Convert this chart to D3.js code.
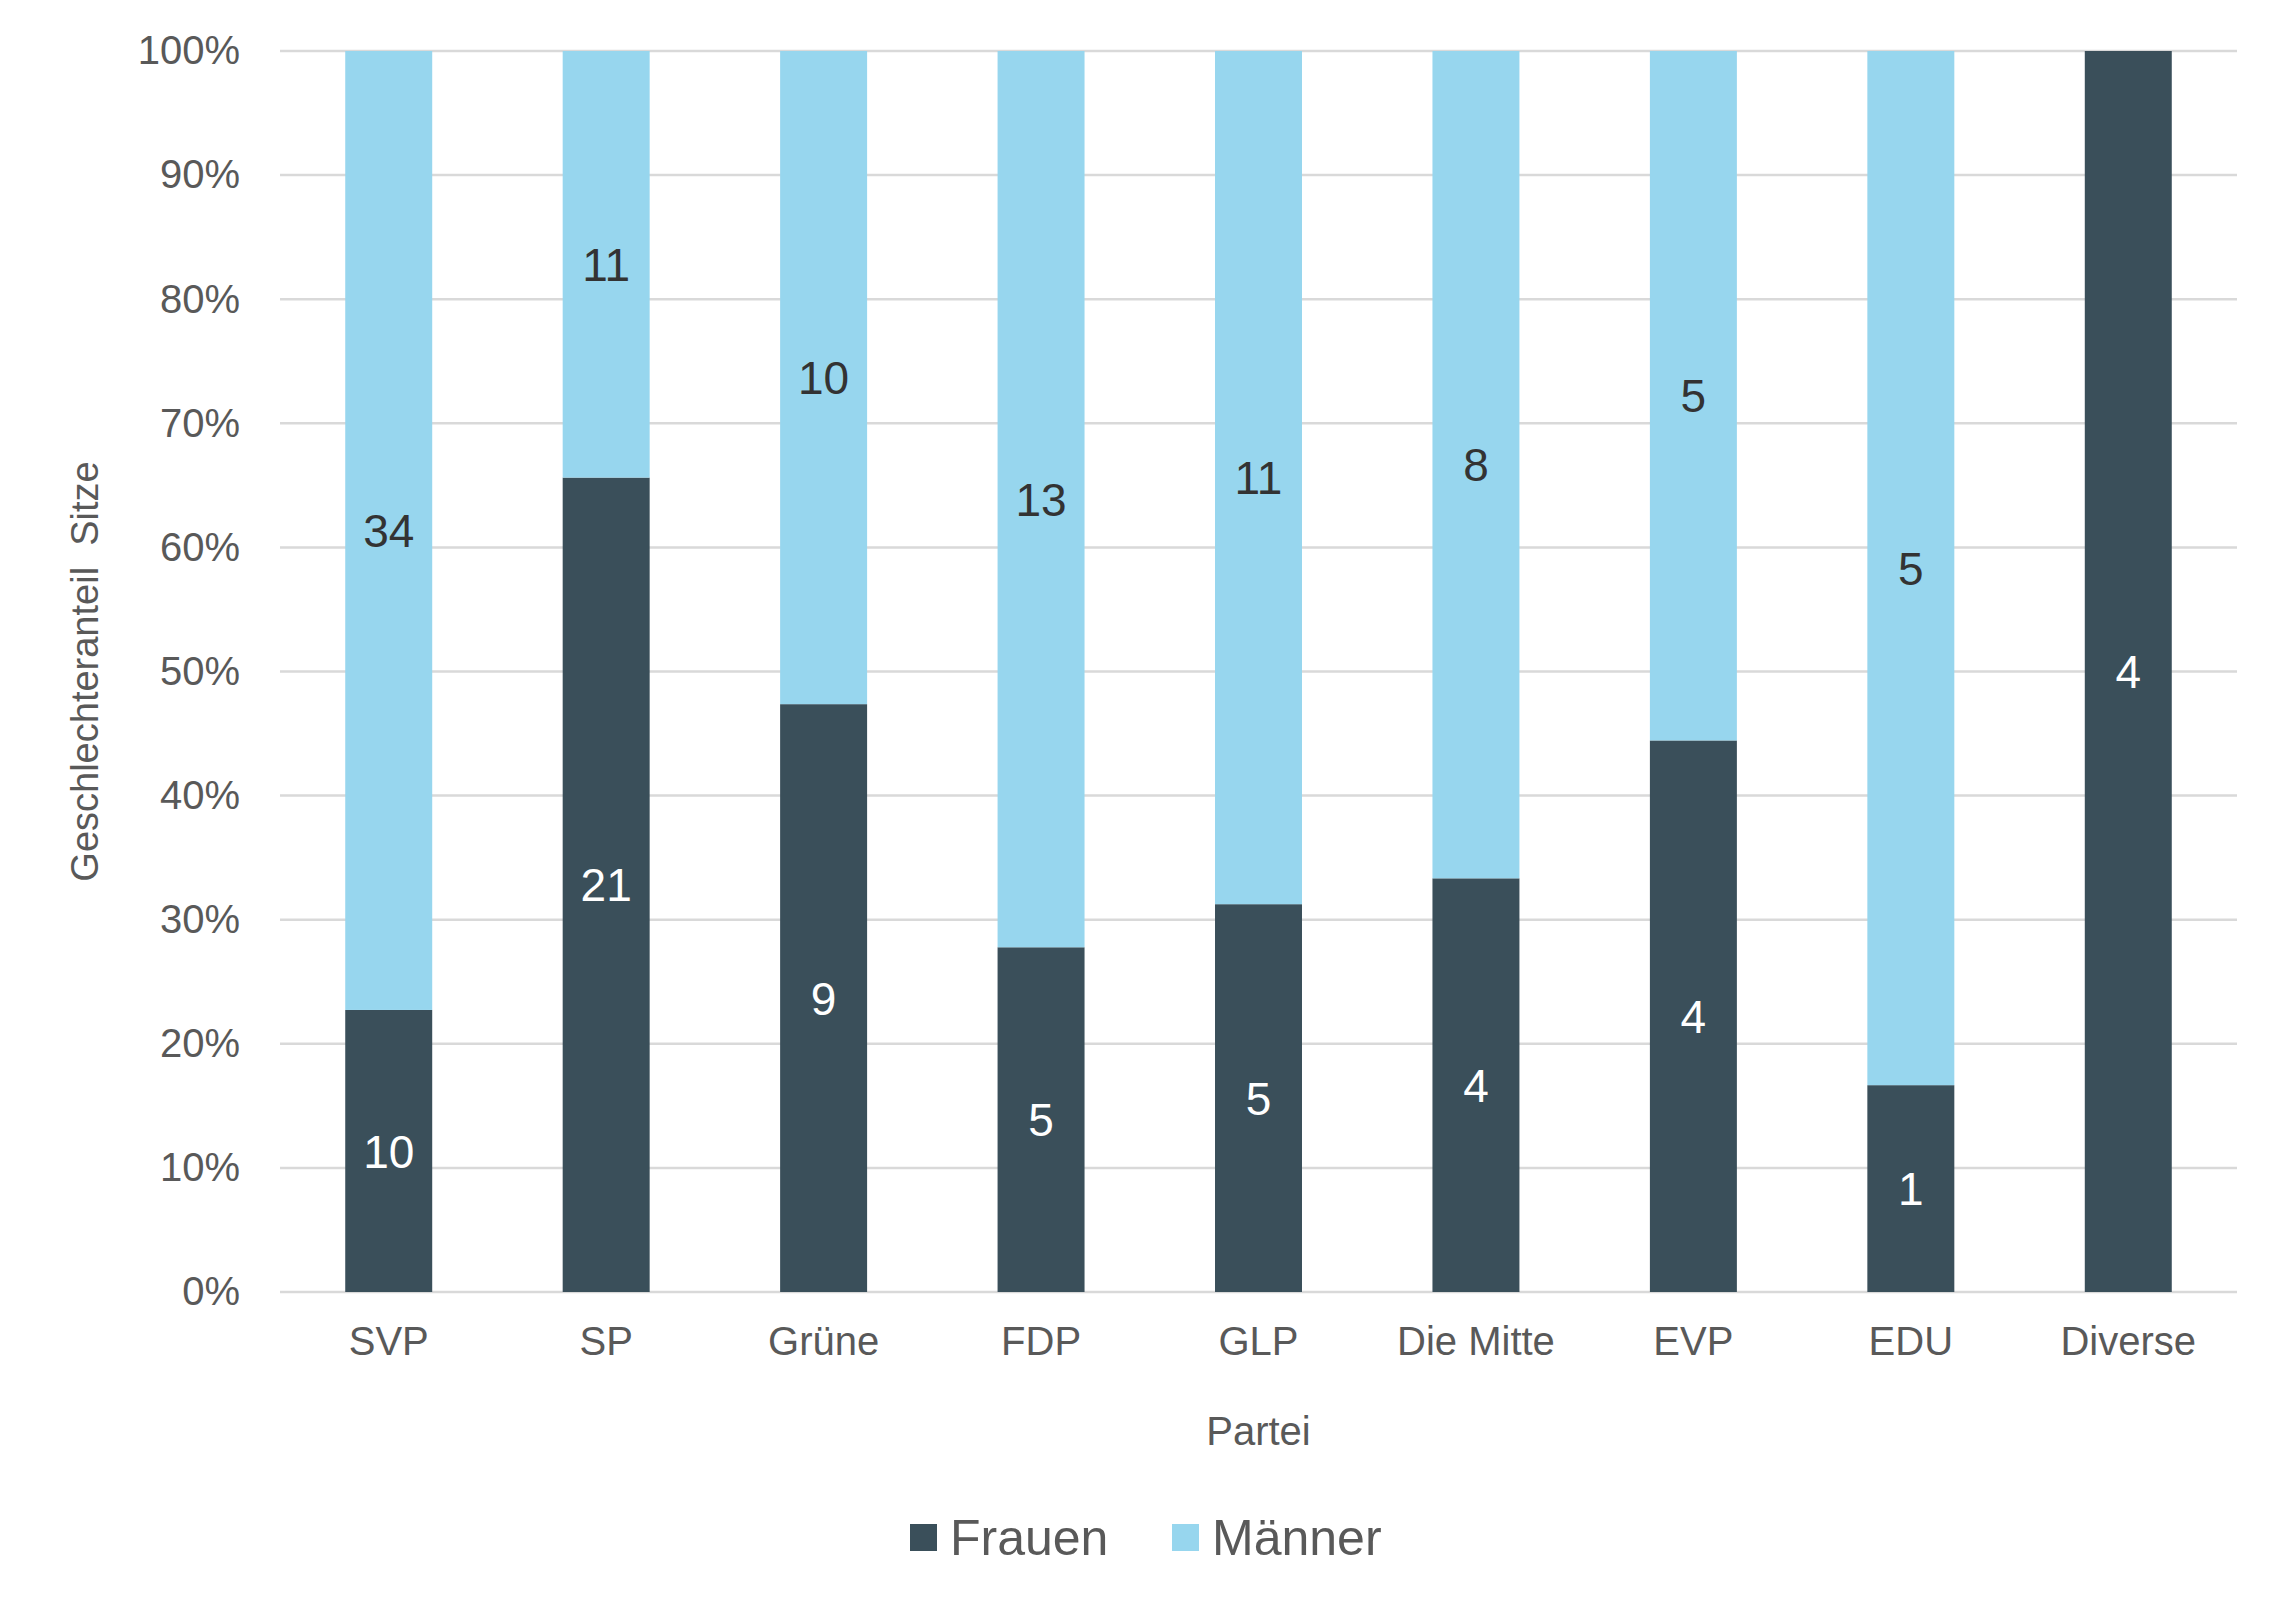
<!DOCTYPE html>
<html>
<head>
<meta charset="utf-8">
<script src="https://cdn.jsdelivr.net/npm/d3@7"></script>
<style>
  body { margin: 0; background: #fff; }
  text { font-family: "Liberation Sans", Arial, sans-serif; }
</style>
</head>
<body>
<div id="chart"></div>
<script>
var parties = ["SVP", "SP", "Grüne", "FDP", "GLP", "Die Mitte", "EVP", "EDU", "Diverse"];
var frauen = [10, 21, 9, 5, 5, 4, 4, 1, 4];
var maenner = [34, 11, 10, 13, 11, 8, 5, 5, 0];
var yTicks = [0, 0.1, 0.2, 0.3, 0.4, 0.5, 0.6, 0.7, 0.8, 0.9, 1];

var svgWidth = 2289, svgHeight = 1611;
var margin = { top: 51, right: 52, bottom: 319, left: 280 };
var width = svgWidth - margin.left - margin.right;
var height = svgHeight - margin.top - margin.bottom;

var svg = d3.select("#chart").append("svg")
    .attr("width", svgWidth).attr("height", svgHeight);
var g = svg.append("g").attr("transform", `translate(${margin.left}, ${margin.top})`);

var x = d3.scaleBand().domain(parties).range([0, width]).paddingInner(0.6).paddingOuter(0.3);
var y = d3.scaleLinear().domain([0, 1]).range([height, 0]);

// gridlines
g.selectAll(".grid").data(yTicks).enter().append("line")
    .attr("x1", 0).attr("x2", width)
    .attr("y1", d => y(d)).attr("y2", d => y(d))
    .attr("stroke", "#d9d9d9").attr("stroke-width", 2.5);

// y axis labels
var yAxis = d3.axisLeft(y).tickValues(yTicks).tickFormat(d3.format(".0%")).tickSize(0).tickPadding(40);
g.append("g").call(yAxis).call(a => a.select(".domain").remove())
    .selectAll("text").attr("font-size", 40).attr("fill", "#595959")
    .style("font-family", "'Liberation Sans', Arial, sans-serif");

// x axis labels
var xAxis = d3.axisBottom(x).tickSize(0).tickPadding(35);
g.append("g").attr("transform", `translate(0, ${height})`).call(xAxis)
    .call(a => a.select(".domain").remove())
    .selectAll("text").attr("font-size", 40).attr("fill", "#595959")
    .style("font-family", "'Liberation Sans', Arial, sans-serif");

var data = parties.map((p, i) => {
    var t = frauen[i] + maenner[i];
    return { p: p, f: frauen[i], m: maenner[i], fs: frauen[i] / t, ms: maenner[i] / t };
});

var bw = x.bandwidth();
// Frauen
g.selectAll(".bf").data(data).enter().append("rect")
    .attr("x", d => x(d.p)).attr("width", bw)
    .attr("y", d => y(d.fs)).attr("height", d => y(0) - y(d.fs))
    .attr("fill", "#3a4f5a");
// Männer
g.selectAll(".bm").data(data.filter(d => d.m > 0)).enter().append("rect")
    .attr("x", d => x(d.p)).attr("width", bw)
    .attr("y", d => y(1)).attr("height", d => y(d.fs) - y(1))
    .attr("fill", "#97d6ee");

// labels
g.selectAll(".lf").data(data).enter().append("text")
    .attr("x", d => x(d.p) + bw / 2).attr("y", d => y(d.fs / 2)).attr("dy", "0.36em")
    .attr("text-anchor", "middle").attr("font-size", 46).attr("fill", "#ffffff")
    .text(d => d.f);
g.selectAll(".lm").data(data.filter(d => d.m > 0)).enter().append("text")
    .attr("x", d => x(d.p) + bw / 2).attr("y", d => y(d.fs + d.ms / 2)).attr("dy", "0.36em")
    .attr("text-anchor", "middle").attr("font-size", 46).attr("fill", "#333333")
    .text(d => d.m);

// axis titles
svg.append("text")
    .attr("transform", `translate(98, ${margin.top + height / 2}) rotate(-90)`)
    .attr("text-anchor", "middle").attr("font-size", 38).attr("fill", "#595959")
    .attr("xml:space", "preserve")
    .text("Geschlechteranteil  Sitze");
svg.append("text")
    .attr("x", margin.left + width / 2).attr("y", 1445)
    .attr("text-anchor", "middle").attr("font-size", 40).attr("fill", "#595959")
    .text("Partei");

// legend
var legend = [["Frauen", "#3a4f5a", 910], ["Männer", "#97d6ee", 1172]];
legend.forEach(function (l) {
    svg.append("rect").attr("x", l[2]).attr("y", 1524).attr("width", 27).attr("height", 27).attr("fill", l[1]);
    svg.append("text").attr("x", l[2] + 40).attr("y", 1555)
        .attr("font-size", 50).attr("fill", "#595959").text(l[0]);
});
</script>
</body>
</html>
